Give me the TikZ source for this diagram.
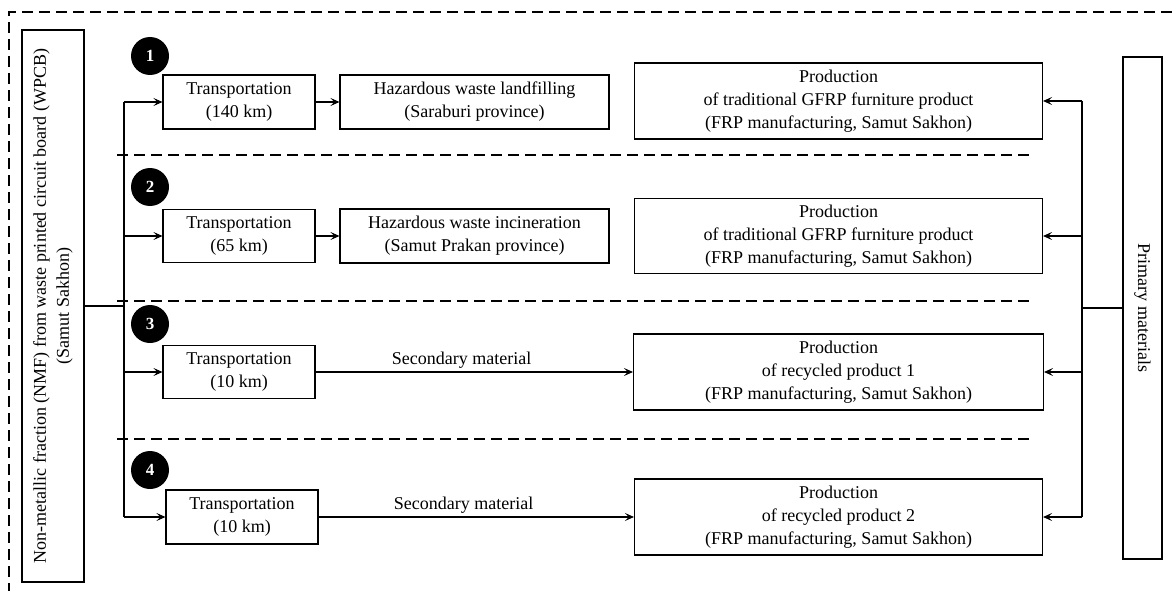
\documentclass[tikz,border=0pt]{standalone}
\usepackage{fontspec}
\setmainfont{Liberation Serif}
\usetikzlibrary{arrows.meta}
\begin{document}
\begin{tikzpicture}[x=1pt,y=-1pt,
    font=\fontsize{18}{23}\selectfont,
    box/.style={draw,line width=1.1pt,align=center,inner sep=0pt},
    badge/.style={circle,fill=black,text=white,minimum size=38pt,inner sep=0pt,font=\fontsize{17}{17}\selectfont\bfseries},
    sep/.style={line width=1.1pt,dash pattern=on 11pt off 6pt},
    wire/.style={line width=1.1pt},
    link/.style={line width=1.1pt,-{Stealth[length=9pt,width=8pt,inset=4pt]}}]
    \useasboundingbox (0,0) rectangle (1172,591);

    % Outer frame (top and left only)
    \draw[sep] (1172,12) -- (9,12) -- (9,591);

    % Side boxes
    \node[box,rotate=90,minimum width=552pt,minimum height=62pt] (nmf) at (53,306) {Non-metallic fraction (NMF) from waste printed circuit board (WPCB)\\(Samut Sakhon)};
    \node[box,rotate=-90,minimum width=502pt,minimum height=39pt] (prim) at (1142.5,308) {Primary materials};

    % Scenario badges
    \node[badge] (b1) at (150,56) {1};
    \node[badge] (b2) at (150,187) {2};
    \node[badge] (b3) at (150,324) {3};
    \node[badge] (b4) at (150,470) {4};

    % Scenario 1: landfilling
    \node[box,minimum width=152pt,minimum height=54pt] (tr1) at (239,102) {Transportation\\(140 km)};
    \node[box,minimum width=269pt,minimum height=54pt] (haz1) at (474.5,102) {Hazardous waste landfilling\\(Saraburi province)};
    \node[box,minimum width=408pt,minimum height=76pt] (prod1) at (838.5,101) {Production\\of traditional GFRP furniture product\\(FRP manufacturing, Samut Sakhon)};

    % Scenario 2: incineration
    \node[box,minimum width=152pt,minimum height=53pt] (tr2) at (239,236) {Transportation\\(65 km)};
    \node[box,minimum width=269pt,minimum height=54pt] (haz2) at (474.5,236) {Hazardous waste incineration\\(Samut Prakan province)};
    \node[box,minimum width=408pt,minimum height=75pt] (prod2) at (838.5,236) {Production\\of traditional GFRP furniture product\\(FRP manufacturing, Samut Sakhon)};

    % Scenario 3: recycled product 1
    \node[box,minimum width=152pt,minimum height=53pt] (tr3) at (239,372) {Transportation\\(10 km)};
    \node[box,minimum width=410pt,minimum height=76pt] (prod3) at (838.5,372) {Production\\of recycled product 1\\(FRP manufacturing, Samut Sakhon)};

    % Scenario 4: recycled product 2
    \node[box,minimum width=152pt,minimum height=54pt] (tr4) at (242,517) {Transportation\\(10 km)};
    \node[box,minimum width=408pt,minimum height=76pt] (prod4) at (838.5,517) {Production\\of recycled product 2\\(FRP manufacturing, Samut Sakhon)};

    % Dashed separators between scenarios
    \foreach \y in {155,301,439}
        \draw[sep] (117,\y) -- (1032,\y);

    % Feed from NMF box
    \coordinate (lsplit) at (124,306);
    \draw[wire] (nmf.south) -- (lsplit);
    \draw[wire] (lsplit |- tr1.west) -- (lsplit |- tr4.west);
    \foreach \n in {1,...,4}
        \draw[link] (lsplit |- tr\n.west) -- (tr\n.west);

    % Feed from primary materials
    \coordinate (rsplit) at (1082,308);
    \draw[wire] (prim.south) -- (rsplit);
    \draw[wire] (rsplit |- prod1.east) -- (rsplit |- prod4.east);
    \foreach \n in {1,...,4}
        \draw[link] (rsplit |- prod\n.east) -- (prod\n.east);

    % Flows within scenarios
    \draw[link] (tr1) -- (haz1);
    \draw[link] (tr2) -- (haz2);
    \draw[link] (tr3) -- node[above,pos=0.46] {Secondary material} (prod3);
    \draw[link] (tr4) -- node[above,pos=0.46] {Secondary material} (prod4);

\end{tikzpicture}
\end{document}
